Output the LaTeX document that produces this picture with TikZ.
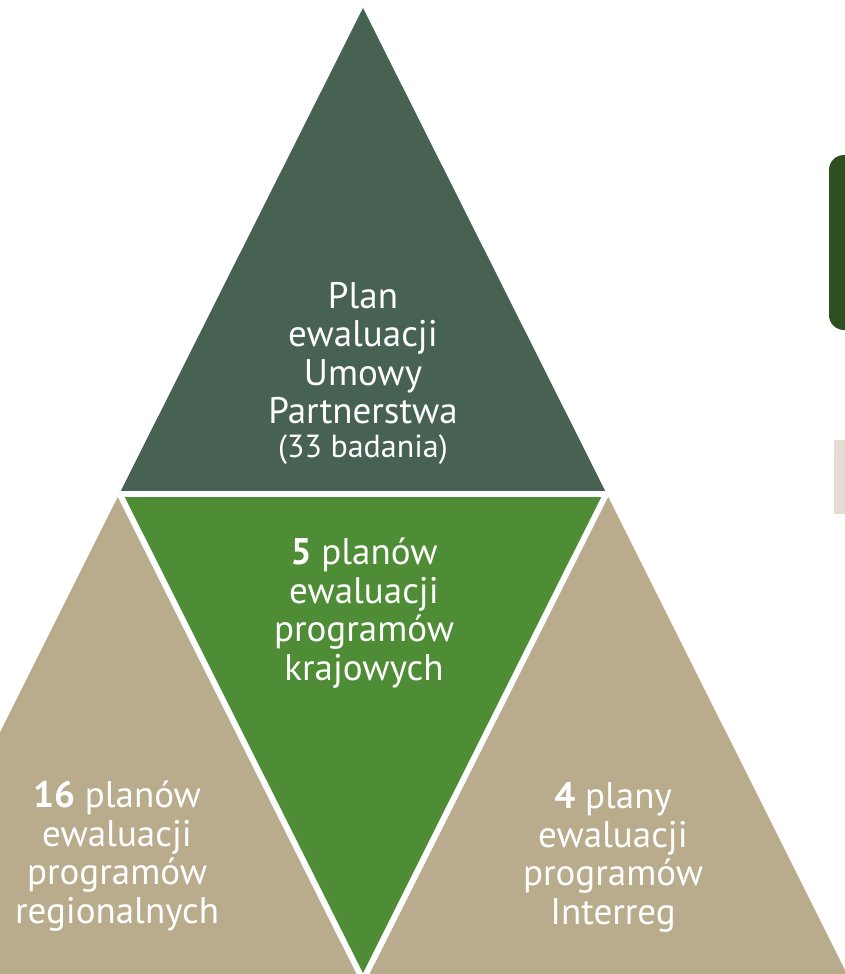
\documentclass[tikz,border=0pt]{standalone}
\usepackage{fontspec}
\setmainfont{PT Sans}
\usepackage{tikz}
\usepackage{color}
\definecolor{topgreen}{HTML}{476253}
\definecolor{midgreen}{HTML}{4E8C35}
\definecolor{tan}{HTML}{B9AC8D}
\definecolor{boxgreen}{HTML}{2E4F1F}
\definecolor{boxbeige}{HTML}{E3DDD2}

\begin{document}
\begin{tikzpicture}[x=1pt, y=-1pt, lbl/.style = {align=center, text=white, anchor=base, font=\fontsize{37}{38.5}\selectfont}, gap/.style = {draw=white, line width=6pt}] 
\useasboundingbox (0,0) rectangle (845,974);
\clip (0,0) rectangle (845,974);
\coordinate (apex) at (363,8);
\coordinate (bl) at (119.5,493.5);
\coordinate (br) at (606.5,493.5);
\coordinate (tip) at (363,980);
\coordinate (ll) at (-124,980);
\coordinate (rr) at (850,980);
\fill[topgreen] (apex) -- (bl) -- (br) -- cycle;
\fill[midgreen] (bl) -- (br) -- (tip) -- cycle;
\fill[tan] (bl) -- (tip) -- (ll) -- cycle;
\fill[tan] (br) -- (rr) -- (tip) -- cycle;
\draw[gap] (bl) -- (br);
\draw[gap] (bl) -- (tip);
\draw[gap] (br) -- (tip);
% side boxes
\fill[boxgreen, rounded corners=15pt] (829,155) rectangle (880,330);
\fill[boxbeige] (834,440) rectangle (860,514);
\node[lbl] (umowa) at (363,457) {Plan\\ewaluacji\\Umowy\\Partnerstwa\\[-5pt]{\fontsize{32}{34}\selectfont (33 badania)}};
\node[lbl] (krajowe) at (364,680) {\textbf{5} planów\\ewaluacji\\programów\\krajowych};
\node[lbl] (regionalne) at (117,923) {\textbf{16} planów\\ewaluacji\\programów\\regionalnych};
\node[lbl] (interreg) at (613,924) {\textbf{4} plany\\ewaluacji\\programów\\Interreg};
\end{tikzpicture}
\end{document}
